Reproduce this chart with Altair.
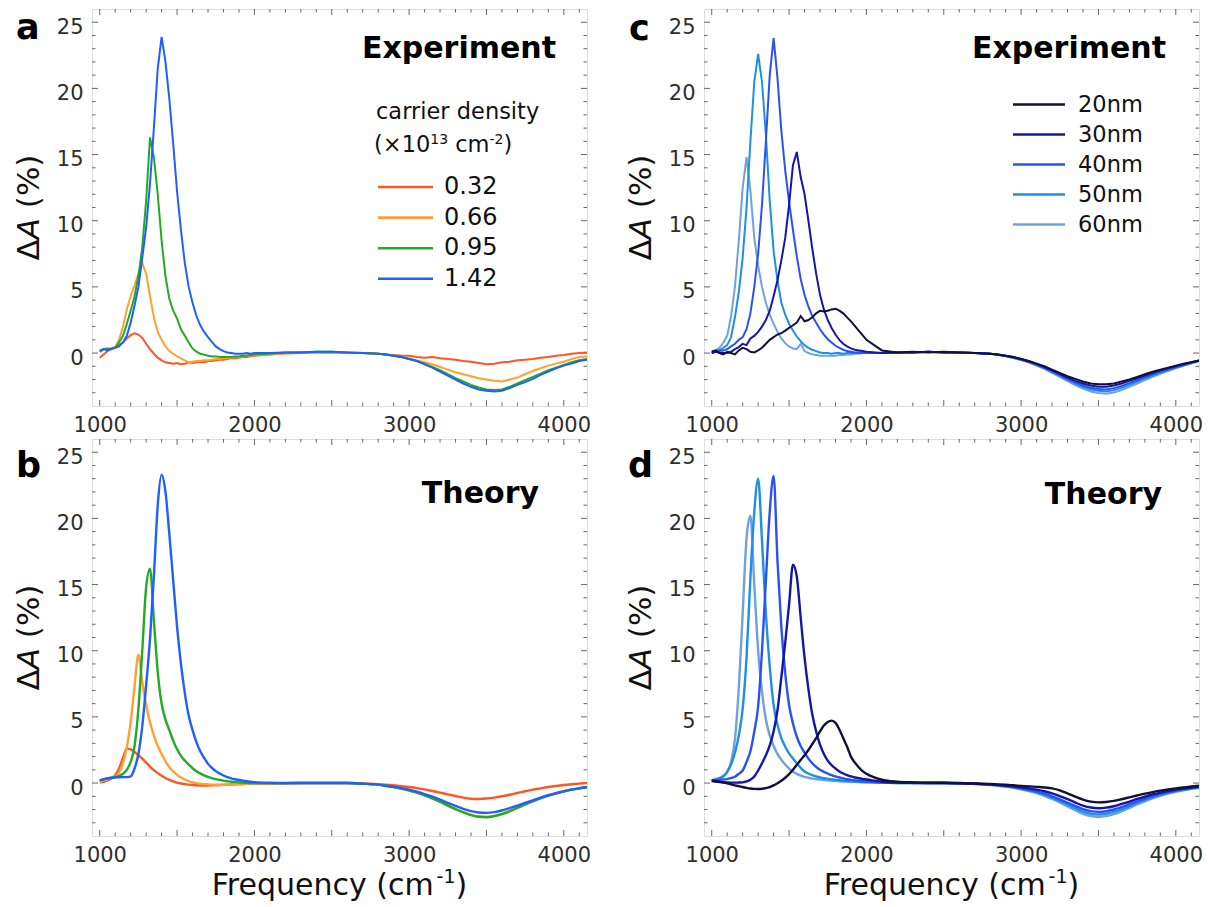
import altair as alt
import pandas as pd

FONT = "DejaVu Sans"

# Frequency grid (cm^-1) shared by every spectrum
FREQ = [
    1000, 1025, 1050, 1075, 1100, 1125, 1150, 1175, 1200, 1225,
    1250, 1275, 1300, 1325, 1350, 1375, 1400, 1425, 1450, 1475,
    1500, 1525, 1550, 1575, 1600, 1625, 1650, 1675, 1700, 1725,
    1750, 1775, 1800, 1825, 1850, 1875, 1900, 1925, 1950, 1975, 2000,
    2100, 2200, 2300, 2400, 2500, 2600, 2700, 2800,
    2850, 2900, 2950, 3000, 3050, 3100, 3150, 3200, 3250, 3300,
    3350, 3400, 3450, 3500, 3550, 3600, 3650, 3700, 3750, 3800,
    3850, 3900, 3950, 4000, 4050, 4100, 4150,
]

# ---- (a) measured dA (%) for four carrier densities (x10^13 cm^-2)
EXP_N032 = [
    -0.35, -0.1, 0.15, 0.3, 0.45, 0.6, 0.8, 1.1, 1.35, 1.5,
    1.4, 1.15, 0.7, 0.3, -0.05, -0.35, -0.55, -0.7, -0.75, -0.8,
    -0.75, -0.85, -0.8, -0.7, -0.75, -0.7, -0.65, -0.7, -0.6, -0.6,
    -0.55, -0.5, -0.5, -0.45, -0.4, -0.4, -0.35, -0.3, -0.3, -0.25, -0.2,
    -0.1, 0.0, 0.05, 0.0, 0.05, 0.0, 0.0, -0.05,
    -0.1, -0.15, -0.2, -0.2, -0.3, -0.35, -0.3, -0.4, -0.45, -0.5,
    -0.6, -0.65, -0.75, -0.85, -0.8, -0.7, -0.65, -0.55, -0.5, -0.45,
    -0.35, -0.3, -0.2, -0.15, -0.05, 0.0, 0.05,
]
EXP_N066 = [
    0.1, 0.3, 0.25, 0.35, 0.45, 1.0, 2.0, 3.3, 4.3, 5.1,
    6.0, 6.8, 6.0, 4.3, 2.7, 1.6, 1.0, 0.5, 0.15, -0.05,
    -0.25, -0.4, -0.55, -0.7, -0.65, -0.6, -0.6, -0.55, -0.55, -0.5,
    -0.45, -0.45, -0.4, -0.4, -0.35, -0.3, -0.3, -0.25, -0.2, -0.2, -0.15,
    -0.1, -0.05, 0.0, 0.0, 0.05, 0.0, 0.0, -0.05,
    -0.1, -0.2, -0.3, -0.4, -0.55, -0.7, -0.85, -1.05, -1.25, -1.45,
    -1.6, -1.75, -1.9, -2.0, -2.1, -2.15, -2.0, -1.85, -1.6, -1.35,
    -1.15, -0.95, -0.8, -0.65, -0.45, -0.3, -0.25,
]
EXP_N095 = [
    0.2, 0.3, 0.35, 0.3, 0.4, 0.8, 1.3, 2.2, 3.2, 4.3,
    5.8, 8.0, 11.5, 16.3, 14.8, 12.0, 8.5, 5.8, 4.1, 3.2,
    2.6, 1.8, 1.3, 0.8, 0.35, 0.1, -0.05, -0.12, -0.2, -0.25,
    -0.25, -0.3, -0.3, -0.3, -0.3, -0.25, -0.25, -0.2, -0.2, -0.15, -0.1,
    -0.05, 0.05, 0.05, 0.1, 0.1, 0.05, 0.0, -0.05,
    -0.1, -0.2, -0.3, -0.45, -0.6, -0.8, -1.05, -1.3, -1.6, -1.9,
    -2.15, -2.4, -2.6, -2.75, -2.8, -2.75, -2.55, -2.3, -2.05, -1.8,
    -1.55, -1.3, -1.1, -0.9, -0.7, -0.55, -0.45,
]
EXP_N142 = [
    0.1, 0.3, 0.2, 0.35, 0.4, 0.5, 0.8, 1.3, 2.3, 3.6,
    5.0, 7.2, 9.5, 12.8, 17.0, 21.5, 23.9, 22.0, 19.2, 15.8,
    12.2, 9.3, 6.8, 5.0, 3.8, 2.8, 2.1, 1.6, 1.2, 0.85,
    0.5, 0.3, 0.15, 0.05, 0.0, -0.05, -0.05, -0.05, 0.0, -0.05, 0.0,
    0.0, 0.05, 0.05, 0.1, 0.1, 0.05, 0.0, -0.05,
    -0.1, -0.2, -0.3, -0.45, -0.6, -0.85, -1.1, -1.4, -1.7, -2.0,
    -2.3, -2.55, -2.75, -2.85, -2.9, -2.85, -2.65, -2.4, -2.2, -1.95,
    -1.65, -1.4, -1.15, -0.95, -0.8, -0.6, -0.5,
]

# ---- (b) calculated dA (%) for the same densities
TH_N032 = [
    0.05, 0.1, 0.2, 0.35, 0.6, 1.1, 1.9, 2.6, 2.55, 2.35,
    2.1, 1.85, 1.55, 1.25, 0.98, 0.75, 0.55, 0.38, 0.24, 0.13,
    0.04, -0.03, -0.08, -0.12, -0.15, -0.17, -0.18, -0.18, -0.18, -0.17,
    -0.16, -0.15, -0.14, -0.12, -0.11, -0.1, -0.08, -0.07, -0.06, -0.05, -0.04,
    -0.02, -0.01, 0.0, 0.0, 0.0, 0.0, -0.03, -0.08,
    -0.12, -0.17, -0.23, -0.3, -0.38, -0.48, -0.6, -0.72, -0.85, -0.98,
    -1.1, -1.18, -1.2, -1.17, -1.1, -1.0, -0.88, -0.75, -0.62, -0.5,
    -0.4, -0.3, -0.22, -0.15, -0.09, -0.04, 0.0,
]
TH_N066 = [
    0.1, 0.2, 0.3, 0.4, 0.5, 0.8, 1.5, 2.7, 4.6, 7.3,
    9.7, 7.6, 5.9, 4.6, 3.6, 2.8, 2.2, 1.65, 1.2, 0.88,
    0.62, 0.42, 0.27, 0.15, 0.06, 0.0, -0.05, -0.08, -0.1, -0.12,
    -0.13, -0.13, -0.13, -0.12, -0.11, -0.1, -0.08, -0.07, -0.06, -0.05, -0.04,
    -0.02, -0.01, 0.0, 0.0, 0.0, 0.0, -0.05, -0.12,
    -0.2, -0.3, -0.42, -0.55, -0.72, -0.92, -1.15, -1.4, -1.68, -1.95,
    -2.2, -2.4, -2.52, -2.55, -2.48, -2.32, -2.1, -1.85, -1.6, -1.35,
    -1.12, -0.92, -0.75, -0.6, -0.48, -0.38, -0.3,
]
TH_N095 = [
    0.2, 0.28, 0.35, 0.4, 0.45, 0.55, 0.7, 1.0, 1.6, 2.8,
    5.6, 10.0, 14.8, 16.2, 12.3, 8.4, 6.0, 4.8, 4.0, 3.2,
    2.55, 2.05, 1.7, 1.4, 1.12, 0.9, 0.73, 0.58, 0.47, 0.38,
    0.3, 0.24, 0.18, 0.14, 0.1, 0.07, 0.05, 0.03, 0.02, 0.01, 0.0,
    -0.02, -0.01, 0.0, 0.0, 0.0, 0.0, -0.05, -0.12,
    -0.2, -0.3, -0.42, -0.56, -0.73, -0.93, -1.16, -1.42, -1.7, -1.97,
    -2.22, -2.42, -2.55, -2.58, -2.5, -2.35, -2.13, -1.88, -1.62, -1.38,
    -1.15, -0.95, -0.78, -0.63, -0.5, -0.4, -0.32,
]
TH_N142 = [
    0.2, 0.3, 0.35, 0.4, 0.42, 0.44, 0.45, 0.45, 0.5, 1.1,
    2.2, 4.3, 7.4, 10.9, 15.6, 21.0, 23.3, 22.0, 18.8, 15.3,
    11.8, 9.0, 6.8, 5.1, 4.0, 3.1, 2.4, 1.9, 1.45, 1.15,
    0.9, 0.72, 0.57, 0.45, 0.36, 0.29, 0.23, 0.18, 0.14, 0.1, 0.07,
    0.02, 0.0, 0.0, 0.0, 0.0, 0.0, -0.05, -0.12,
    -0.2, -0.28, -0.38, -0.5, -0.65, -0.83, -1.03, -1.25, -1.5, -1.73,
    -1.95, -2.12, -2.22, -2.25, -2.2, -2.07, -1.9, -1.7, -1.5, -1.3,
    -1.1, -0.92, -0.77, -0.63, -0.5, -0.4, -0.32,
]

# ---- (c) measured dA (%) for five ribbon widths
EXP_W20 = [
    0.1, 0.2, 0.0, -0.1, 0.1, 0.0, -0.1, 0.2, 0.4, 0.3,
    0.1, 0.05, 0.2, 0.4, 0.7, 1.0, 1.2, 1.4, 1.5, 1.7,
    1.9, 2.1, 2.3, 2.8, 2.4, 2.5, 2.7, 3.0, 3.2, 3.15,
    3.2, 3.3, 3.35, 3.2, 3.0, 2.7, 2.4, 2.05, 1.7, 1.35, 1.0,
    0.2, 0.05, 0.1, 0.05, 0.1, 0.05, 0.0, -0.05,
    -0.1, -0.2, -0.3, -0.45, -0.6, -0.8, -1.0, -1.25, -1.5, -1.75,
    -1.95, -2.15, -2.3, -2.35, -2.35, -2.3, -2.15, -2.0, -1.8, -1.6,
    -1.4, -1.25, -1.1, -0.95, -0.8, -0.7, -0.55,
]
EXP_W30 = [
    0.0, 0.1, 0.05, 0.0, 0.0, 0.1, 0.3, 0.45, 0.7, 0.6,
    1.1, 1.3, 1.6, 2.0, 2.5, 3.2, 4.3, 5.5, 7.0, 8.7,
    11.2, 14.2, 15.2, 13.3, 12.0, 10.0, 7.9, 6.0, 4.4, 3.3,
    2.5, 1.9, 1.4, 1.0, 0.7, 0.5, 0.35, 0.25, 0.2, 0.15, 0.1,
    0.0, 0.05, 0.05, 0.1, 0.05, 0.05, 0.0, -0.05,
    -0.1, -0.2, -0.3, -0.45, -0.62, -0.82, -1.05, -1.3, -1.58, -1.85,
    -2.1, -2.3, -2.45, -2.55, -2.55, -2.45, -2.3, -2.1, -1.9, -1.7,
    -1.5, -1.3, -1.15, -1.0, -0.85, -0.7, -0.55,
]
EXP_W40 = [
    0.1, 0.15, 0.2, 0.2, 0.3, 0.5, 0.7, 1.0, 1.2, 1.8,
    3.0, 5.0, 7.5, 11.2, 16.0, 21.0, 23.8, 20.8, 16.8, 13.8,
    11.4, 9.3, 7.3, 5.6, 4.4, 3.5, 2.8, 2.3, 1.8, 1.4,
    1.05, 0.8, 0.55, 0.4, 0.25, 0.15, 0.1, 0.05, 0.05, 0.0, 0.0,
    0.0, 0.05, 0.05, 0.1, 0.05, 0.05, 0.0, -0.05,
    -0.12, -0.22, -0.33, -0.48, -0.65, -0.87, -1.1, -1.37, -1.65, -1.95,
    -2.22, -2.45, -2.62, -2.72, -2.75, -2.65, -2.48, -2.27, -2.05, -1.82,
    -1.6, -1.4, -1.22, -1.05, -0.88, -0.72, -0.58,
]
EXP_W50 = [
    0.0, 0.1, 0.2, 0.4, 0.6, 1.2, 2.7, 4.6, 7.2, 11.0,
    16.0, 20.5, 22.6, 20.5, 16.5, 11.5, 7.7, 5.5, 3.8, 2.9,
    2.2, 1.7, 1.25, 0.9, 0.6, 0.4, 0.25, 0.15, 0.05, 0.0,
    0.0, -0.05, 0.0, 0.0, -0.05, 0.0, 0.0, 0.0, 0.0, 0.0, 0.0,
    0.0, 0.05, 0.05, 0.1, 0.05, 0.05, 0.0, -0.05,
    -0.12, -0.23, -0.35, -0.5, -0.68, -0.9, -1.15, -1.43, -1.72, -2.02,
    -2.3, -2.55, -2.75, -2.85, -2.9, -2.8, -2.62, -2.4, -2.15, -1.92,
    -1.7, -1.48, -1.28, -1.1, -0.92, -0.76, -0.6,
]
EXP_W60 = [
    0.0, 0.2, 0.4, 0.8, 1.3, 2.8, 5.0, 8.5, 12.5, 14.8,
    12.3, 8.7, 6.6, 5.0, 3.8, 2.9, 2.2, 1.6, 1.1, 0.75,
    0.5, 0.35, 0.3, 0.7, 0.15, 0.0, -0.1, -0.15, -0.2, -0.2,
    -0.2, -0.2, -0.2, -0.15, -0.15, -0.1, -0.1, -0.05, -0.05, 0.0, 0.0,
    0.0, 0.05, 0.05, 0.1, 0.05, 0.05, 0.0, -0.05,
    -0.13, -0.25, -0.37, -0.53, -0.72, -0.95, -1.2, -1.5, -1.8, -2.12,
    -2.42, -2.68, -2.9, -3.02, -3.08, -2.98, -2.8, -2.55, -2.3, -2.05,
    -1.8, -1.57, -1.35, -1.15, -0.97, -0.8, -0.62,
]

# ---- (d) calculated dA (%) for the same widths
TH_W20 = [
    0.15, 0.12, 0.08, 0.04, -0.02, -0.1, -0.17, -0.23, -0.3, -0.36,
    -0.41, -0.44, -0.45, -0.43, -0.38, -0.3, -0.18, -0.02, 0.17, 0.4,
    0.68, 1.0, 1.38, 1.75, 2.1, 2.5, 2.95, 3.4, 3.9, 4.35,
    4.62, 4.72, 4.55, 4.05, 3.4, 2.75, 2.0, 1.55, 1.2, 0.9, 0.7,
    0.25, 0.1, 0.05, 0.03, 0.02, 0.0, -0.03, -0.07,
    -0.1, -0.13, -0.17, -0.21, -0.25, -0.29, -0.33, -0.4, -0.55, -0.78,
    -1.03, -1.25, -1.4, -1.46, -1.43, -1.35, -1.22, -1.08, -0.94, -0.8,
    -0.68, -0.57, -0.48, -0.4, -0.33, -0.26, -0.2,
]
TH_W30 = [
    0.2, 0.15, 0.1, 0.06, 0.04, 0.03, 0.03, 0.04, 0.05, 0.12,
    0.25, 0.5, 0.95, 1.5, 2.1, 2.85, 3.9, 5.5, 8.0, 10.6,
    13.5, 16.5, 15.6, 12.5, 9.5, 7.1, 5.2, 3.9, 2.9, 2.2,
    1.7, 1.35, 1.1, 0.88, 0.72, 0.6, 0.5, 0.42, 0.36, 0.31, 0.27,
    0.1, 0.04, 0.02, 0.01, 0.0, -0.01, -0.04, -0.1,
    -0.14, -0.19, -0.25, -0.32, -0.4, -0.5, -0.62, -0.78, -0.98, -1.22,
    -1.47, -1.7, -1.85, -1.9, -1.86, -1.75, -1.58, -1.4, -1.2, -1.02,
    -0.86, -0.72, -0.6, -0.5, -0.41, -0.33, -0.27,
]
TH_W40 = [
    0.2, 0.22, 0.25, 0.27, 0.3, 0.38, 0.48, 0.7, 0.95, 1.6,
    2.4, 3.9, 5.8, 10.0, 15.3, 20.5, 23.2, 16.8, 11.8, 8.3,
    5.9, 4.5, 3.5, 2.8, 2.3, 1.85, 1.5, 1.22, 1.0, 0.85,
    0.72, 0.6, 0.5, 0.42, 0.35, 0.29, 0.24, 0.2, 0.17, 0.14, 0.12,
    0.05, 0.02, 0.01, 0.0, 0.0, -0.02, -0.05, -0.12,
    -0.17, -0.23, -0.3, -0.39, -0.5, -0.63, -0.8, -1.0, -1.23, -1.48,
    -1.73, -1.97, -2.12, -2.18, -2.13, -2.0, -1.82, -1.6, -1.38, -1.17,
    -0.98, -0.82, -0.68, -0.56, -0.46, -0.37, -0.3,
]
TH_W50 = [
    0.2, 0.25, 0.35, 0.5, 0.85, 1.4, 2.3, 3.6, 5.6, 9.5,
    15.5, 20.5, 23.0, 18.3, 12.8, 8.8, 5.9, 4.4, 3.4, 2.75,
    2.25, 1.85, 1.5, 1.15, 0.88, 0.72, 0.6, 0.5, 0.42, 0.37,
    0.32, 0.28, 0.24, 0.21, 0.18, 0.15, 0.13, 0.11, 0.09, 0.08, 0.07,
    0.03, 0.01, 0.0, 0.0, 0.0, -0.02, -0.06, -0.13,
    -0.18, -0.25, -0.33, -0.43, -0.55, -0.7, -0.88, -1.1, -1.35, -1.62,
    -1.9, -2.15, -2.32, -2.38, -2.32, -2.18, -1.98, -1.75, -1.5, -1.28,
    -1.07, -0.89, -0.74, -0.61, -0.5, -0.41, -0.33,
]
TH_W60 = [
    0.2, 0.3, 0.4, 0.55, 0.85, 1.6, 3.3, 7.2, 12.8, 18.5,
    20.2, 15.0, 10.0, 6.9, 4.8, 3.6, 2.8, 2.2, 1.75, 1.4,
    1.1, 0.85, 0.7, 0.57, 0.47, 0.4, 0.34, 0.3, 0.26, 0.23,
    0.2, 0.18, 0.16, 0.14, 0.12, 0.11, 0.1, 0.09, 0.08, 0.07, 0.06,
    0.03, 0.01, 0.0, 0.0, 0.0, -0.02, -0.07, -0.15,
    -0.2, -0.27, -0.36, -0.47, -0.6, -0.76, -0.96, -1.2, -1.47, -1.76,
    -2.05, -2.32, -2.5, -2.56, -2.5, -2.35, -2.13, -1.88, -1.62, -1.38,
    -1.16, -0.97, -0.8, -0.66, -0.54, -0.44, -0.36,
]

DENSITY_LABELS = ["0.32", "0.66", "0.95", "1.42"]
DENSITY_COLORS = ["#ff5522", "#ffa030", "#22aa22", "#1f5fff"]
WIDTH_LABELS = ["20nm", "30nm", "40nm", "50nm", "60nm"]
WIDTH_COLORS = ["#10103c", "#1616a6", "#2a52f2", "#1e90e0", "#6fa1e0"]

X_MAJOR = [1000, 1500, 2000, 2500, 3000, 3500, 4000]
X_MINOR = [1100, 1200, 1300, 1400, 1600, 1700, 1800, 1900, 2100, 2200,
           2300, 2400, 2600, 2700, 2800, 2900, 3100, 3200, 3300, 3400,
           3600, 3700, 3800, 3900, 4100]
Y_MAJOR = [0, 5, 10, 15, 20, 25]
Y_MINOR = [-3, -2, -1, 1, 2, 3, 4, 6, 7, 8, 9, 11, 12, 13, 14,
           16, 17, 18, 19, 21, 22, 23, 24]

W, H = 495, 397
TICK = "#666666"
INK = "#111111"

XS = alt.Scale(domain=[950, 4150], nice=False, zero=False)
YS = alt.Scale(domain=[-4, 26], nice=False, zero=False)
XAXIS = alt.Axis(values=[1000, 2000, 3000, 4000], title=None, format="d",
                 domain=False, ticks=False, tickSize=0, grid=False,
                 labelFont=FONT, labelFontSize=21, labelColor="#2e2e2e",
                 labelBaseline="alphabetic", labelPadding=25,
                 labelFlush=False, labelOverlap=False)
YAXIS = alt.Axis(values=Y_MAJOR, title=None, format="d",
                 domain=False, ticks=False, tickSize=0, grid=False,
                 labelFont=FONT, labelFontSize=21, labelColor="#2e2e2e",
                 labelBaseline="alphabetic", labelOffset=11, labelPadding=9,
                 labelOverlap=False)

ONE = pd.DataFrame({"k": [0]})


def text(t, x, y, size, weight="normal", style="normal", align="left",
         baseline="alphabetic", angle=0, color=INK):
    return alt.Chart(ONE).mark_text(
        text=t, font=FONT, fontSize=size, fontWeight=weight, fontStyle=style,
        align=align, baseline=baseline, angle=angle, color=color,
    ).encode(x=alt.value(x), y=alt.value(y))


def spectra(series, colors, stroke, interp):
    out = []
    for vals, color in zip(series, colors):
        df = pd.DataFrame({"freq": FREQ, "dA": vals})
        out.append(
            alt.Chart(df).mark_line(color=color, strokeWidth=stroke,
                                    interpolate=interp, clip=True)
            .encode(x=alt.X("freq:Q", scale=XS, axis=XAXIS),
                    y=alt.Y("dA:Q", scale=YS, axis=YAXIS))
        )
    return out


def frame_ticks():
    out = []
    for vals, n in ((X_MAJOR, 6), (X_MINOR, 3.5)):
        d = pd.DataFrame({"t": vals})
        for y0, y1 in ((H, H - n), (0, n)):
            out.append(alt.Chart(d).mark_rule(color=TICK, strokeWidth=1).encode(
                x=alt.X("t:Q", scale=XS, axis=XAXIS),
                y=alt.value(y0), y2=alt.value(y1)))
    for vals, n in ((Y_MAJOR, 6), (Y_MINOR, 3.5)):
        d = pd.DataFrame({"t": vals})
        for x0, x1 in ((0, n), (W, W - n)):
            out.append(alt.Chart(d).mark_rule(color=TICK, strokeWidth=1).encode(
                y=alt.Y("t:Q", scale=YS, axis=YAXIS),
                x=alt.value(x0), x2=alt.value(x1)))
    return out


def y_title():
    # "ΔA (%)" written bottom-to-top with an italic A
    s = 31
    total = (0.684 + 0.684 + 0.318 + 0.39 + 0.95 + 0.39) * s
    y0 = H / 2 + total / 2
    return [
        text("Δ", -53, y0, s, angle=270),
        text("A", -53, y0 - 0.684 * s, s, style="italic", angle=270),
        text("(%)", -53, y0 - (0.684 + 0.684 + 0.318) * s, s, angle=270),
    ]


def x_title():
    s, ss = 30, 19
    w_main = 7.493 * s
    w_sup = (0.361 + 0.636) * ss
    total = w_main + w_sup + 0.39 * s
    x0 = W / 2 - total / 2
    yb = H + 59
    return [
        text("Frequency (cm", x0, yb, s),
        text("-1", x0 + w_main, yb - 12, ss),
        text(")", x0 + w_main + w_sup, yb, s),
    ]


def legend_rows(labels, colors, x0, x1, xt, ytop, step, size):
    out = []
    for i, (lab, col) in enumerate(zip(labels, colors)):
        y = ytop + i * step
        out.append(alt.Chart(ONE).mark_rule(color=col, strokeWidth=2.6).encode(
            x=alt.value(x0), x2=alt.value(x1), y=alt.value(y), y2=alt.value(y)))
        out.append(text(lab, xt, y, size, baseline="middle"))
    return out


def density_legend():
    s, ss = 22.5, 14
    out = [text("carrier density", 284, 110, s)]
    x = 282
    out.append(text("(×10", x, 143, s))
    x += 2.5 * s
    out.append(text("13", x, 135, ss))
    x += 1.272 * ss + 0.318 * s
    out.append(text("cm", x, 143, s))
    x += (0.55 + 0.974) * s
    out.append(text("-2", x, 135, ss))
    x += (0.361 + 0.636) * ss
    out.append(text(")", x, 143, s))
    out += legend_rows(DENSITY_LABELS, DENSITY_COLORS, 286, 341, 352, 178, 30.6, 24)
    return out


# (a) experiment, carrier density series
panel_a = alt.layer(
    *frame_ticks(),
    *spectra([EXP_N032, EXP_N066, EXP_N095, EXP_N142], DENSITY_COLORS, 2.0, "linear"),
    *y_title(),
    text("a", -76, 30, 35, weight="bold", color="#000000"),
    text("Experiment", 464, 49, 30, weight="bold", align="right", color="#000000"),
    *density_legend(),
    alt.Chart(ONE).mark_rule(color="white", strokeWidth=1).encode(
        x=alt.value(-90.5), x2=alt.value(-90.5), y=alt.value(-7.5), y2=alt.value(-7.5)),
).properties(width=W, height=H)

# (c) experiment, ribbon width series (dark drawn last)
panel_c = alt.layer(
    *frame_ticks(),
    *spectra([EXP_W60, EXP_W50, EXP_W40, EXP_W30, EXP_W20],
             WIDTH_COLORS[::-1], 2.0, "linear"),
    *y_title(),
    text("c", -75, 31, 35, weight="bold", color="#000000"),
    text("Experiment", 462, 49, 30, weight="bold", align="right", color="#000000"),
    *legend_rows(WIDTH_LABELS, WIDTH_COLORS, 309, 361, 374, 95.5, 30, 22.5),
).properties(width=W, height=H)

# (b) theory, carrier density series
panel_b = alt.layer(
    *frame_ticks(),
    *spectra([TH_N032, TH_N066, TH_N095, TH_N142], DENSITY_COLORS, 2.4, "monotone"),
    *y_title(),
    *x_title(),
    text("b", -76, 38, 35, weight="bold", color="#000000"),
    text("Theory", 447, 64, 30, weight="bold", align="right", color="#000000"),
).properties(width=W, height=H)

# (d) theory, ribbon width series
panel_d = alt.layer(
    *frame_ticks(),
    *spectra([TH_W60, TH_W50, TH_W40, TH_W30, TH_W20],
             WIDTH_COLORS[::-1], 2.4, "monotone"),
    *y_title(),
    *x_title(),
    text("d", -76, 38, 35, weight="bold", color="#000000"),
    text("Theory", 458, 65, 30, weight="bold", align="right", color="#000000"),
).properties(width=W, height=H)

chart = alt.concat(
    panel_a, panel_c, panel_b, panel_d,
    columns=2, spacing={"row": 33, "column": 117}, bounds="flush",
).properties(padding=0).configure_view(
    stroke="#8a8a8a", strokeWidth=1.3
).configure(font=FONT, background="white")

chart.save("out.html", embed_options={"renderer": "svg", "actions": False})
